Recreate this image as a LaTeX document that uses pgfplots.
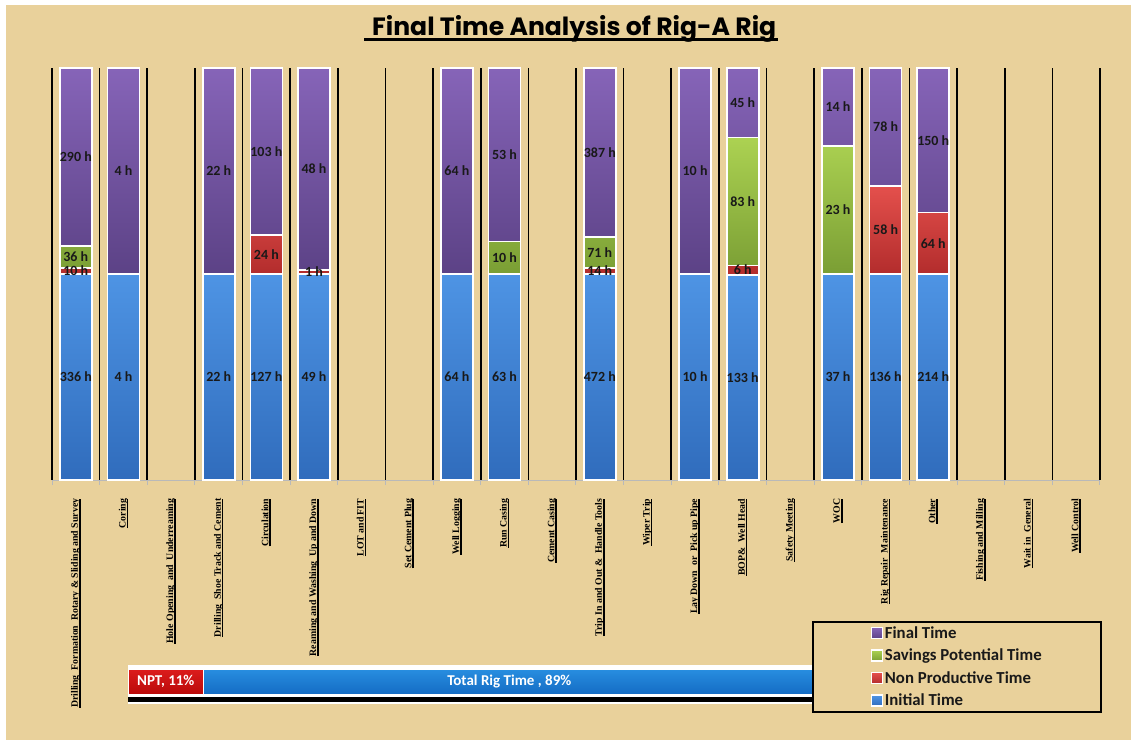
\documentclass[border=0pt]{standalone}
\usepackage{pgfplots}
\pgfplotsset{compat=1.18}
\usepackage{pgfplotstable}
\usepackage{graphicx}
\usepackage{fontspec}
\setmainfont{Carlito}
\newfontfamily\serifb{Liberation Serif}
\newfontfamily\titlef{Poppins}

\definecolor{tanbg}{RGB}{233,209,155}
\definecolor{purT}{RGB}{134,100,184}
\definecolor{purB}{RGB}{92,66,134}
\definecolor{grnT}{RGB}{172,210,82}
\definecolor{grnB}{RGB}{122,158,52}
\definecolor{redT}{RGB}{228,80,76}
\definecolor{redB}{RGB}{178,44,44}
\definecolor{bluT}{RGB}{78,148,228}
\definecolor{bluB}{RGB}{48,108,188}
\definecolor{nptR}{RGB}{220,28,28}
\definecolor{nptRB}{RGB}{186,10,10}
\definecolor{nptB}{RGB}{40,142,224}
\definecolor{nptBB}{RGB}{20,108,196}

\newcommand{\ulab}[1]{\setbox0\hbox{#1}\rlap{\rule[-2.6pt]{\wd0}{1.6pt}}\box0}

\pgfplotstableread{
x init npt sav fin
0  336 10 36 290
1  4   0  0  4
3  22  0  0  22
4  127 24 0  103
5  49  1  0  48
8  64  0  0  64
9  63  0  10 53
11 472 14 71 387
13 10  0  0  10
14 133 6  83 45
16 37  0  23 14
17 136 58 0  78
18 214 64 0  150
}\rigdata

\def\rtot{(\thisrow{init}+\thisrow{npt}+\thisrow{sav}+\thisrow{fin})}

\begin{document}
\begin{tikzpicture}[x=1pt,y=1pt]
% background
\fill[white] (0,0) rectangle (1131,740);
\fill[tanbg] (6,0) rectangle (1131,735);
% title
\node[anchor=base west, inner sep=0pt] at (364,704.3)
  {\rlap{\rule[-5.8pt]{414pt}{3pt}}\kern8pt\resizebox{404pt}{\height}{\titlef\bfseries\fontsize{25}{28}\selectfont Final Time Analysis of Rig-A Rig}};

% NPT summary bar
\fill[white] (128,36) rectangle (815,75);
\fill[black] (128,38) rectangle (815,43);
\begin{axis}[at={(128pt,36pt)}, anchor=south west, scale only axis,
  width=687pt, height=39pt, xbar stacked, bar width=25pt,
  xmin=0, xmax=100, ymin=-1.154, ymax=0.846, hide axis, clip=false]
\addplot[top color=nptR, bottom color=nptRB, draw=white, line width=1pt] coordinates {(11,0)};
\addplot[top color=nptB, bottom color=nptBB, draw=white, line width=1pt] coordinates {(89,0)};
\coordinate (nptL) at (axis cs:5.5,0);
\coordinate (totL) at (axis cs:55.5,0);
\end{axis}
\node[text=white, font=\bfseries\fontsize{15}{16}\selectfont] at (nptL) {NPT, 11\%};
\node[text=white, font=\bfseries\fontsize{15}{16}\selectfont] at (totL) {Total Rig Time , 89\%};

% main chart
\begin{axis}[at={(52pt,260pt)}, anchor=south west, scale only axis,
  width=1048pt, height=412pt,
  ybar stacked, bar width=32pt,
  xmin=-0.5, xmax=21.5, ymin=0, ymax=100,
  enlargelimits=false, clip=false,
  axis x line*=bottom, axis y line=none,
  axis line style={draw=gray!55, line width=1pt},
  ytick=\empty,
  xtick={0,...,21}, major tick length=0pt,
  xticklabels={
    {\ulab{Drilling~~Formation~~Rotary \& Sliding and Survey}},
    {\ulab{Coring}},
    {\ulab{Hole Opening~~and~~Underreaming}},
    {\ulab{Drilling~~Shoe Track and Cement}},
    {\ulab{Circulation}},
    {\ulab{Reaming and Washing~~Up and Down}},
    {\ulab{LOT and FIT}},
    {\ulab{Set Cement Plug}},
    {\ulab{Well Logging}},
    {\ulab{Run Casing}},
    {\ulab{Cement Casing}},
    {\ulab{Trip In and Out \&~~Handle Tools}},
    {\ulab{Wiper Trip}},
    {\ulab{Lay Down~~or~~Pick up Pipe}},
    {\ulab{BOP\&~~Well Head}},
    {\ulab{Safety Meeting}},
    {\ulab{WOC}},
    {\ulab{Rig Repair~~Maintenance}},
    {\ulab{Other}},
    {\ulab{Fishing and Milling}},
    {\ulab{Wait in~~General}},
    {\ulab{Well Control}}},
  xticklabel style={rotate=90, anchor=east, inner sep=0pt, text=black,
    font=\serifb\bfseries\fontsize{9.8}{10}\selectfont, xshift=1.5pt},
  xticklabel shift=20pt,
  extra x ticks={-0.5,0.5,...,21.5},
  extra x tick labels={},
  extra x tick style={xmajorgrids=true, major tick length=5pt, tick align=outside,
    tick style={draw=gray!55, line width=1pt}},
  major grid style={draw=black, line width=1.6pt},
  every axis plot post/.append style={
    legend image code/.code={\draw[##1,draw=white,line width=1.4pt] (0pt,-5.5pt) rectangle (11pt,5.5pt);}},
  reverse legend,
  legend cell align=left,
  legend style={at={(0.7252,-0.3422)}, anchor=north west, draw=black, line width=2pt,
    fill=tanbg, inner xsep=57.5pt, inner ysep=2.5pt, row sep=5.2pt,
    font=\bfseries\fontsize{16.8}{18}\selectfont, text=black!90},
]
\addplot[top color=bluT, bottom color=bluB, draw=white, line width=1.6pt]
  table[x=x, y expr=100*\thisrow{init}/\rtot] {\rigdata};
\addlegendentry{Initial Time}
\addplot[top color=redT, bottom color=redB, draw=white, line width=1.6pt]
  table[x=x, y expr=100*\thisrow{npt}/\rtot] {\rigdata};
\addlegendentry{Non Productive Time}
\addplot[top color=grnT, bottom color=grnB, draw=white, line width=1.6pt]
  table[x=x, y expr=100*\thisrow{sav}/\rtot] {\rigdata};
\addlegendentry{Savings Potential Time}
\addplot[top color=purT, bottom color=purB, draw=white, line width=1.6pt]
  table[x=x, y expr=100*\thisrow{fin}/\rtot] {\rigdata};
\addlegendentry{Final Time}
\end{axis}

% value labels
\begin{axis}[at={(52pt,260pt)}, anchor=south west, scale only axis,
  width=1048pt, height=412pt,
  xmin=-0.5, xmax=21.5, ymin=0, ymax=100, hide axis, clip=false,
  point meta=explicit symbolic,
  nodes near coords={\pgfplotspointmeta~h},
  every node near coord/.append style={anchor=center, inner sep=0pt, text=black!90,
    font=\bfseries\fontsize{14}{15}\selectfont}]
\addplot[draw=none, mark=none]
  table[x=x, y expr=50*\thisrow{init}/\rtot, meta=init] {\rigdata};
\addplot[draw=none, mark=none, restrict expr to domain={\thisrow{npt}}{0.5:100000}]
  table[x=x, y expr=100*(\thisrow{init}+0.5*\thisrow{npt})/\rtot, meta=npt] {\rigdata};
\addplot[draw=none, mark=none, restrict expr to domain={\thisrow{sav}}{0.5:100000}]
  table[x=x, y expr=100*(\thisrow{init}+\thisrow{npt}+0.5*\thisrow{sav})/\rtot, meta=sav] {\rigdata};
\addplot[draw=none, mark=none]
  table[x=x, y expr=100*(\thisrow{init}+\thisrow{npt}+\thisrow{sav}+0.5*\thisrow{fin})/\rtot, meta=fin] {\rigdata};
\end{axis}
\end{tikzpicture}
\end{document}
